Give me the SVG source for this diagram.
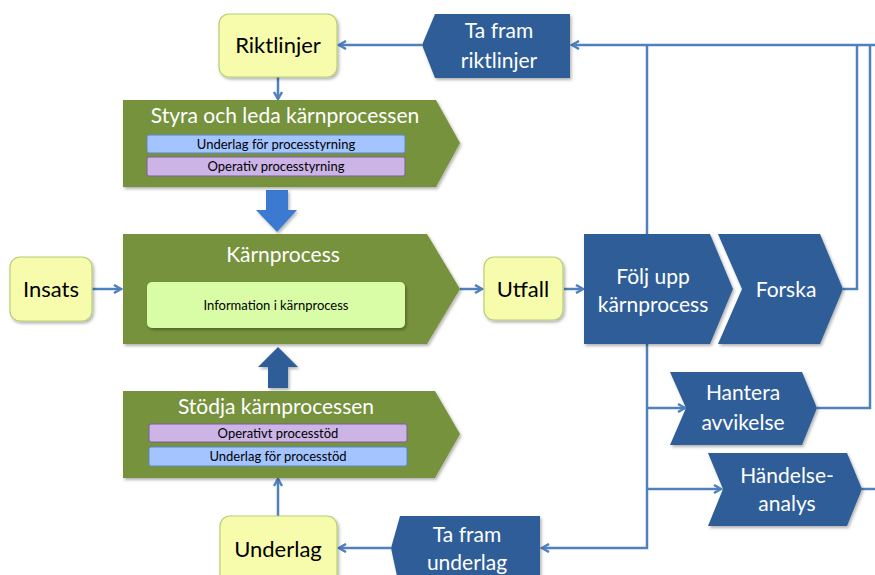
<svg xmlns="http://www.w3.org/2000/svg" width="875" height="575" viewBox="0 0 875 575">
  <defs>
    <filter id="shadow" x="-10%" y="-10%" width="125%" height="130%">
      <feDropShadow dx="1.5" dy="2" stdDeviation="1.5" flood-color="#000" flood-opacity="0.3"/>
    </filter>
    <marker id="arrow" markerWidth="10" markerHeight="10" refX="8" refY="5" orient="auto" markerUnits="userSpaceOnUse">
      <path d="M1,1 L8,5 L1,9" fill="none" stroke="#4f81bd" stroke-width="2.5" stroke-linejoin="miter"/>
    </marker>
    <style>
      .conn { fill: none; stroke: #4f81bd; stroke-width: 2.5; }
      .term { fill: #f7fcac; stroke: #b5cf74; stroke-width: 1.2; filter: url(#shadow); }
      .green { fill: #76923c; filter: url(#shadow); }
      .blue { fill: #2d5d97; filter: url(#shadow); }
      .sub-blue { fill: #a3c4ff; stroke: #5a86c6; stroke-width: 1; }
      .sub-purple { fill: #ccb4e6; stroke: #7d5d9c; stroke-width: 1; }
      .info { fill: #d9fca6; filter: url(#shadow); }
      text { font-family: Lato, "Liberation Sans", sans-serif; text-anchor: middle; }
      .dark { fill: #000; font-size: 22px; }
      .light { fill: #fff; font-size: 21px; }
      .small { fill: #000; font-size: 13px; }
    </style>
  </defs>

  <!-- connectors -->
  <g id="connectors">
    <path class="conn" d="M278,77 V99" marker-end="url(#arrow)"/>
    <path class="conn" d="M278,516 V479" marker-end="url(#arrow)"/>
    <path class="conn" d="M92,289 H121" marker-end="url(#arrow)"/>
    <path class="conn" d="M460,289 H482" marker-end="url(#arrow)"/>
    <path class="conn" d="M564,289 H583" marker-end="url(#arrow)"/>
    <path class="conn" d="M422,45 H339" marker-end="url(#arrow)"/>
    <path class="conn" d="M391,548 H339" marker-end="url(#arrow)"/>
    <path class="conn" d="M875,45 H572" marker-end="url(#arrow)"/>
    <path class="conn" d="M647,45 V234"/>
    <path class="conn" d="M843,289 H857 V45"/>
    <path class="conn" d="M817,408 H870 V45"/>
    <path class="conn" d="M862,489 H875"/>
    <path class="conn" d="M647,344 V548 H542" marker-end="url(#arrow)"/>
    <path class="conn" d="M647,408 H685" marker-end="url(#arrow)"/>
    <path class="conn" d="M647,489 H721" marker-end="url(#arrow)"/>
  </g>

  <!-- block arrows between process levels -->
  <g id="block-arrow-down">
    <path d="M266,190 H288 V210 H297 L277,232 L256,210 H266 Z" fill="#3b7ad0" filter="url(#shadow)"/>
  </g>
  <g id="block-arrow-up">
    <path d="M268,388 H288 V367 H298 L278,347 L258,367 H268 Z" fill="#2d5d97" filter="url(#shadow)"/>
  </g>

  <g id="riktlinjer">
    <rect class="term" x="219" y="14" width="118" height="63" rx="10"/>
    <text class="dark" x="278" y="53">Riktlinjer</text>
  </g>

  <g id="styra">
    <path class="green" d="M123,100 H436 L460,143 L436,187 H123 Z"/>
    <text class="light" x="285" y="123">Styra och leda kärnprocessen</text>
    <rect class="sub-blue" x="147" y="135" width="258" height="18" rx="2"/>
    <text class="small" x="276" y="149">Underlag för processtyrning</text>
    <rect class="sub-purple" x="147" y="157" width="258" height="19" rx="2"/>
    <text class="small" x="276" y="171">Operativ processtyrning</text>
  </g>

  <g id="insats">
    <rect class="term" x="10" y="257" width="82" height="64" rx="10"/>
    <text class="dark" x="51" y="297">Insats</text>
  </g>

  <g id="karnprocess">
    <path class="green" d="M123,234 H427 L460,289 L427,344 H123 Z"/>
    <text class="light" x="283" y="262">Kärnprocess</text>
    <rect class="info" x="147" y="282" width="258" height="46" rx="5"/>
    <text class="small" x="276" y="310">Information i kärnprocess</text>
  </g>

  <g id="stodja">
    <path class="green" d="M123,391 H435 L460,434 L435,478 H123 Z"/>
    <text class="light" x="276" y="414">Stödja kärnprocessen</text>
    <rect class="sub-purple" x="149" y="424" width="258" height="18" rx="2"/>
    <text class="small" x="278" y="438">Operativt processtöd</text>
    <rect class="sub-blue" x="149" y="447" width="258" height="19" rx="2"/>
    <text class="small" x="278" y="461">Underlag för processtöd</text>
  </g>

  <g id="underlag">
    <rect class="term" x="220" y="516" width="117" height="80" rx="10"/>
    <text class="dark" x="278" y="557">Underlag</text>
  </g>

  <g id="utfall">
    <rect class="term" x="484" y="257" width="79" height="63" rx="10"/>
    <text class="dark" x="523" y="297">Utfall</text>
  </g>

  <g id="ta-fram-riktlinjer">
    <path class="blue" d="M435,14 H570 V78 H435 L422,45 Z"/>
    <text class="light" x="499" y="38">Ta fram</text>
    <text class="light" x="499" y="68">riktlinjer</text>
  </g>

  <g id="ta-fram-underlag">
    <path class="blue" d="M400,516 H540 V590 H400 L391,548 Z"/>
    <text class="light" x="467" y="542">Ta fram</text>
    <text class="light" x="467" y="570">underlag</text>
  </g>

  <g id="folj-upp">
    <path class="blue" d="M584,234 H710 L733,289 L710,344 H584 Z"/>
    <text class="light" x="653" y="284">Följ upp</text>
    <text class="light" x="653" y="312">kärnprocess</text>
  </g>

  <g id="forska">
    <path class="blue" d="M718,234 H820 L843,289 L820,344 H718 L742,289 Z"/>
    <text class="light" x="786" y="297">Forska</text>
  </g>

  <g id="hantera-avvikelse">
    <path class="blue" d="M670,372 H802 L817,408 L802,445 H670 L686,408 Z"/>
    <text class="light" x="743" y="400">Hantera</text>
    <text class="light" x="743" y="430">avvikelse</text>
  </g>

  <g id="handelseanalys">
    <path class="blue" d="M708,453 H847 L862,489 L847,526 H708 L723,489 Z"/>
    <text class="light" x="787" y="483">Händelse-</text>
    <text class="light" x="787" y="511">analys</text>
  </g>
</svg>
